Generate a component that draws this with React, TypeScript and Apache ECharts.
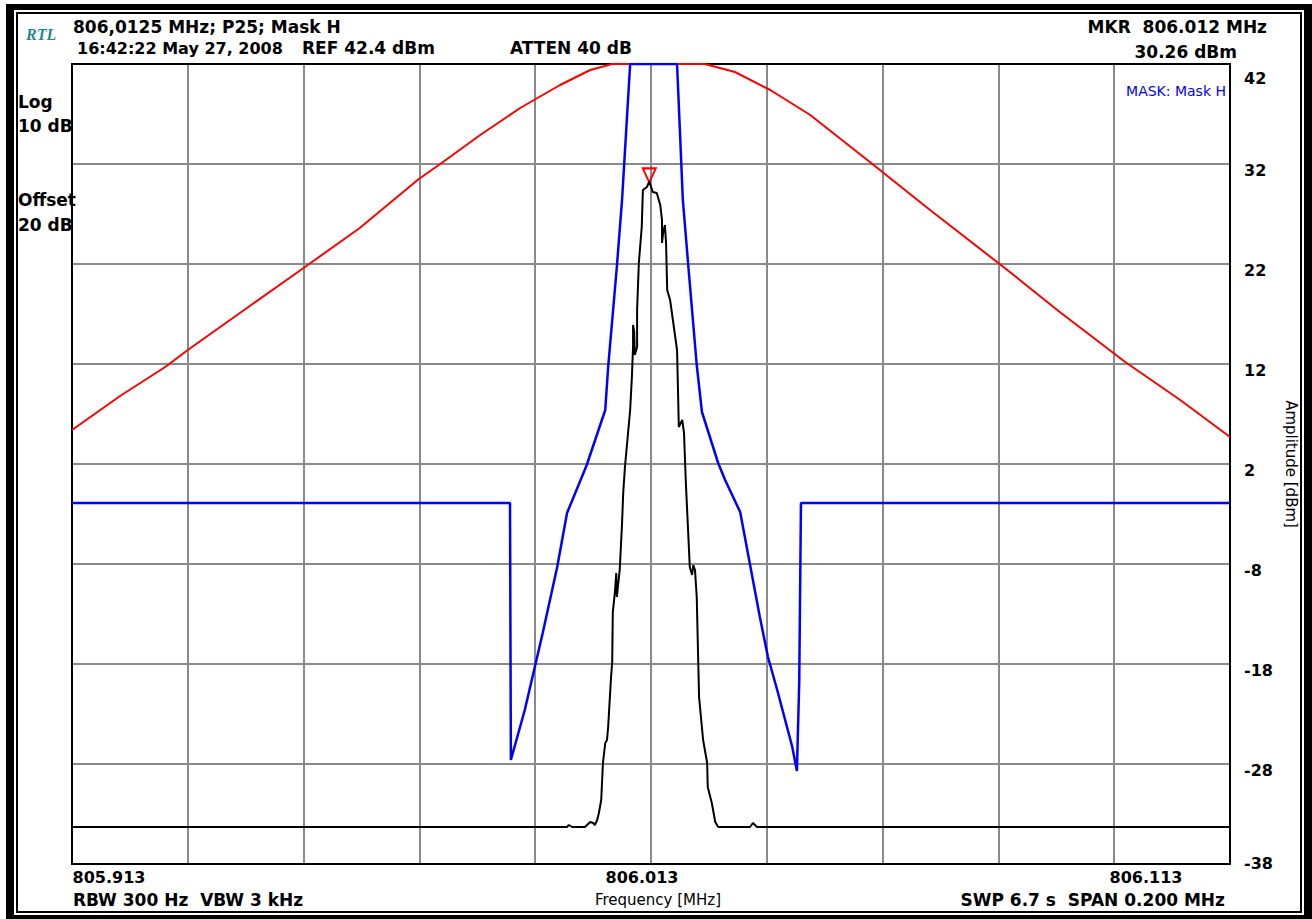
import { useEffect, useRef } from "react";
import * as echarts from "echarts";

const FONT = '"DejaVu Sans", sans-serif';

// x values: frequency offset from the 806.0125 MHz centre, in kHz
const xTickLabelValues = [-100, 0, 100];
const xTickLabels = ["805.913", "806.013", "806.113"];
const yTickValues = [-38, -28, -18, -8, 2, 12, 22, 32, 42];

// red curve
const limitFreqKHz = [-100, -91.7, -83.9, -80, -69.3, -60, -50.3, -40.1, -36.4, -29.5, -22.6, -15.7, -10.5, -6.7, 9.3, 14.5, 20.6, 27.5, 37.8, 48.2, 61.1, 70.6, 81.9, 91.4, 100];
const limitLevel = [5.4, 8.8, 11.7, 13.4, 17.8, 21.6, 25.6, 30.5, 32, 34.9, 37.6, 39.9, 41.4, 42, 42, 41.2, 39.4, 36.9, 32.2, 27.4, 21.6, 17.2, 12.2, 8.4, 4.7];

// blue mask (Mask H)
const maskFreqKHz = [-100, -24.35, -24.2, -21.8, -18.7, -16.2, -14.5, -12.3, -11.1, -7.9, -7.4, -5.9, -5.0, -3.6, 4.5, 5.5, 6.4, 7.9, 8.8, 11.6, 12.8, 15.4, 18.8, 20.2, 21.8, 24.4, 25.2, 25.6, 25.9, 100];
const maskLevel = [-1.9, -1.9, -27.6, -22.6, -14.9, -8.3, -2.9, 0.2, 1.9, 7.4, 11.7, 21.7, 28.4, 42, 42, 28.4, 22.1, 11.9, 7.2, 2.1, 0.4, -2.8, -13.3, -17.3, -20.6, -26.3, -28.7, -19.8, -1.9, -1.9];

// black measured trace
const traceFreqKHz = [-100, -14.5, -14.2, -13.6, -11.4, -10.5, -10.0, -9.7, -9.3, -9.0, -8.6, -8.3, -7.9, -7.6, -7.4, -6.9, -6.7, -6.6, -6.2, -6.0, -5.9, -5.5, -5.4, -5.0, -4.8, -4.5, -3.6, -3.3, -3.1, -3.1, -2.9, -2.8, -2.4, -2.4, -2.1, -1.6, -1.4, -0.7, -0.3, 0.3, 1.0, 1.6, 1.9, 1.9, 2.1, 2.4, 2.6, 2.8, 3.3, 4.5, 4.7, 4.8, 5.4, 5.7, 6.0, 6.4, 6.7, 7.1, 7.3, 7.6, 7.9, 8.1, 8.3, 9.0, 9.7, 9.8, 10.5, 11.1, 11.6, 17.1, 17.6, 18.3, 100];
const traceLevel = [-34.3, -34.3, -34.1, -34.3, -34.3, -33.8, -33.9, -34.1, -33.6, -32.9, -31.6, -27.9, -25.9, -25.6, -24.3, -19.3, -17.8, -12.9, -10.6, -8.9, -11.3, -9.1, -8.6, -3.9, -0.9, 1.7, 7.4, 10.7, 13.7, 15.9, 15.2, 12.9, 13.7, 17.4, 22.1, 25.7, 29.4, 29.7, 30.26, 29.2, 29.1, 27.9, 26.4, 24.1, 25.1, 25.9, 24.1, 19.4, 18.4, 13.4, 8.4, 5.7, 6.4, 5.1, 0.4, -4.6, -8.3, -9.1, -8.1, -8.6, -11.3, -16.3, -21.3, -25.6, -27.9, -30.3, -31.9, -33.8, -34.3, -34.3, -33.9, -34.3, -34.3];

const markerFreqKHz = -0.3;
const markerLevel = 30.26;

const pairs = (xs: number[], ys: number[]) => xs.map((x, i) => [x, ys[i]]);

export default function App() {
  const ref = useRef<HTMLDivElement>(null);
  useEffect(() => {
    const chart = echarts.init(ref.current!, null, { renderer: "svg" });
    const txt = (text: string, x: number, y: number, opts: any = {}) => ({
      type: "text",
      x,
      y,
      silent: true,
      z: 10,
      style: {
        text,
        fontFamily: FONT,
        fontSize: 17,
        fontWeight: "bold",
        fill: "#000",
        align: "left",
        verticalAlign: "middle",
        ...opts,
      },
    });
    const rect = (x: number, y: number, w: number, h: number) => ({
      type: "rect",
      silent: true,
      z: 10,
      shape: { x, y, width: w, height: h },
      style: { fill: "#000" },
    });
    const labelBase = { fontFamily: FONT, fontSize: 16, fontWeight: "bold", color: "#000" };
    chart.setOption({
      animation: false,
      backgroundColor: "#fff",
      grid: { left: 72, right: 82, top: 64, bottom: 55, containLabel: false },
      xAxis: [
        {
          type: "value",
          min: -100,
          max: 100,
          interval: 20,
          position: "bottom",
          axisLine: { show: true, onZero: false, lineStyle: { color: "#000", width: 2 } },
          axisTick: { show: false },
          splitLine: { show: true, showMinLine: false, showMaxLine: false, lineStyle: { color: "#8a8a8a", width: 2 } },
          axisLabel: {
            customValues: xTickLabelValues,
            margin: 5,
            hideOverlap: false,
            showMinLabel: true,
            showMaxLabel: true,
            ...labelBase,
            formatter: (v: number) => {
              const i = xTickLabelValues.indexOf(v);
              const key = ["l", "c", "r"][i] || "c";
              return "{" + key + "|" + (xTickLabels[i] ?? "") + "}";
            },
            rich: {
              l: { ...labelBase, padding: [0, 0, 0, 74] },
              c: { ...labelBase, padding: [0, 18, 0, 0] },
              r: { ...labelBase, padding: [0, 168, 0, 0] },
            },
          },
          name: "Frequency [MHz]",
          nameLocation: "middle",
          nameGap: 28,
          nameTextStyle: { fontFamily: FONT, fontSize: 15, color: "#000", padding: [0, 0, 0, 14] },
        },
        {
          type: "value",
          min: -100,
          max: 100,
          position: "top",
          z: 3,
          axisLine: { show: true, onZero: false, lineStyle: { color: "#000", width: 2 } },
          axisTick: { show: false },
          axisLabel: { show: false },
          splitLine: { show: false },
        },
      ],
      yAxis: [
        {
          type: "value",
          min: -38,
          max: 42,
          position: "right",
          axisLine: { show: true, onZero: false, lineStyle: { color: "#000", width: 2 } },
          axisTick: { show: false, customValues: yTickValues },
          splitLine: { show: true, showMinLine: false, showMaxLine: false, lineStyle: { color: "#8a8a8a", width: 2 } },
          axisLabel: {
            customValues: yTickValues,
            margin: 14,
            align: "left",
            verticalAlign: "middle",
            ...labelBase,
            formatter: (v: number) => (v === 42 ? "{t|" + v + "}" : v === -38 ? "{b|" + v + "}" : "{n|" + v + "}"),
            rich: {
              n: { ...labelBase, padding: [13, 0, 0, 0] },
              t: { ...labelBase, padding: [28, 0, 0, 0] },
              b: { ...labelBase, padding: [0, 0, 2, 0] },
            },
          },
          name: "Amplitude [dBm]",
          nameLocation: "middle",
          nameRotate: -90,
          nameGap: 48,
          nameTextStyle: { fontFamily: FONT, fontSize: 15, color: "#000" },
        },
        {
          type: "value",
          min: -38,
          max: 42,
          position: "left",
          z: 3,
          axisLine: { show: true, onZero: false, lineStyle: { color: "#000", width: 2 } },
          axisTick: { show: false },
          axisLabel: { show: false },
          splitLine: { show: false },
        },
      ],
      series: [
        {
          type: "line",
          name: "Limit",
          data: pairs(limitFreqKHz, limitLevel),
          symbol: "none",
          lineStyle: { color: "#ff0000", width: 2 },
          itemStyle: { color: "#ff0000" },
          z: 4,
        },
        {
          type: "line",
          name: "MASK: Mask H",
          data: pairs(maskFreqKHz, maskLevel),
          symbol: "none",
          lineStyle: { color: "#0000ff", width: 2.5 },
          itemStyle: { color: "#0000ff" },
          z: 5,
        },
        {
          type: "line",
          name: "Trace",
          data: pairs(traceFreqKHz, traceLevel),
          symbol: "none",
          lineStyle: { color: "#000", width: 2 },
          itemStyle: { color: "#000" },
          z: 6,
          markPoint: {
            silent: true,
            label: { show: false },
            data: [
              {
                coord: [markerFreqKHz, markerLevel],
                symbol: "triangle",
                symbolRotate: 180,
                symbolSize: [13, 14],
                symbolOffset: [0, -6],
                itemStyle: { color: "rgba(0,0,0,0)", borderColor: "#ff0000", borderWidth: 2 },
              },
            ],
          },
        },
      ],
      graphic: [
        rect(6, 4, 8, 915),
        rect(6, 4, 1306, 6),
        rect(1304, 4, 8, 915),
        rect(6, 915, 1306, 4),
        {
          type: "rect",
          silent: true,
          z: 10,
          shape: { x: 17, y: 13, width: 1284, height: 899 },
          style: { fill: "none", stroke: "#000", lineWidth: 2 },
        },
        txt("RTL", 26, 34, { fontFamily: '"Liberation Serif", serif', fontStyle: "italic", fontSize: 16, fill: "#1f8a8a" }),
        txt("806,0125 MHz; P25; Mask H", 73, 27),
        txt("16:42:22 May 27, 2008", 77, 48, { fontSize: 16 }),
        txt("REF 42.4 dBm", 302, 48),
        txt("ATTEN 40 dB", 510, 48),
        txt("MKR  806.012 MHz", 1267, 27, { align: "right" }),
        txt("30.26 dBm", 1237, 52, { align: "right" }),
        txt("MASK: Mask H", 1226, 91, { align: "right", fontSize: 14, fontWeight: "normal", fill: "#0000ff" }),
        txt("Log", 18, 102),
        txt("10 dB", 18, 126),
        txt("Offset", 18, 200),
        txt("20 dB", 18, 225),
        txt("RBW 300 Hz  VBW 3 kHz", 73, 900),
        txt("SWP 6.7 s  SPAN 0.200 MHz", 1225, 900, { align: "right" }),
      ],
    });
    return () => chart.dispose();
  }, []);
  return (
    <div
      ref={ref}
      style={{ position: "fixed", left: 0, top: 0, width: 1312, height: 919, background: "#fff" }}
    />
  );
}
